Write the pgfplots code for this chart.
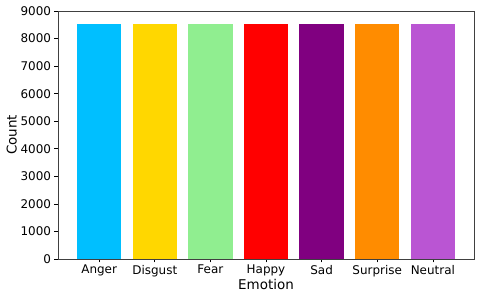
\documentclass[border=0pt]{standalone}
\usepackage{pgfplots}
\pgfplotsset{compat=1.18}
\usepackage{fontspec}
\setmainfont{DejaVu Sans}
\definecolor{c1}{RGB}{0,191,255}
\definecolor{c2}{RGB}{255,215,0}
\definecolor{c3}{RGB}{144,238,144}
\definecolor{c4}{RGB}{255,0,0}
\definecolor{c5}{RGB}{128,0,128}
\definecolor{c6}{RGB}{255,140,0}
\definecolor{c7}{RGB}{186,85,211}
\begin{document}
\begin{tikzpicture}
\begin{axis}[name=ax,
  scale only axis, width=416bp, height=248bp,
  xmin=-0.74, xmax=6.74, ymin=0, ymax=9000,
  xtick={0,1,2,3,4,5,6},
  xticklabels={Anger,Disgust,Fear,Happy,Sad,Surprise,Neutral},
  ytick={0,1000,...,9000},
  scaled y ticks=false,
  /pgf/number format/assume math mode=true,
  /pgf/number format/1000 sep={},
  tick label style={font=\fontsize{12}{14}\selectfont},
  xticklabel style={yshift=1bp},
  label style={font=\fontsize{13.5}{16}\selectfont},
  xlabel={Emotion}, ylabel={Count},
  tick align=outside, major tick length=3.5bp,
  tick style={black, line width=0.6bp},
  axis line style={black!75, line width=0.6bp},
  xtick pos=bottom, ytick pos=left,
  xlabel style={yshift=4bp},
  ylabel style={yshift=-3bp},
  ybar, bar width=0.8, bar shift=0pt,
]
\addplot[fill=c1, draw=none] coordinates {(0,8525)};
\addplot[fill=c2, draw=none] coordinates {(1,8525)};
\addplot[fill=c3, draw=none] coordinates {(2,8525)};
\addplot[fill=c4, draw=none] coordinates {(3,8525)};
\addplot[fill=c5, draw=none] coordinates {(4,8525)};
\addplot[fill=c6, draw=none] coordinates {(5,8525)};
\addplot[fill=c7, draw=none] coordinates {(6,8525)};
\end{axis}
\path ([shift={(-58bp,-39bp)}]ax.south west) rectangle ([shift={(6bp,11bp)}]ax.north east);
\end{tikzpicture}
\end{document}
